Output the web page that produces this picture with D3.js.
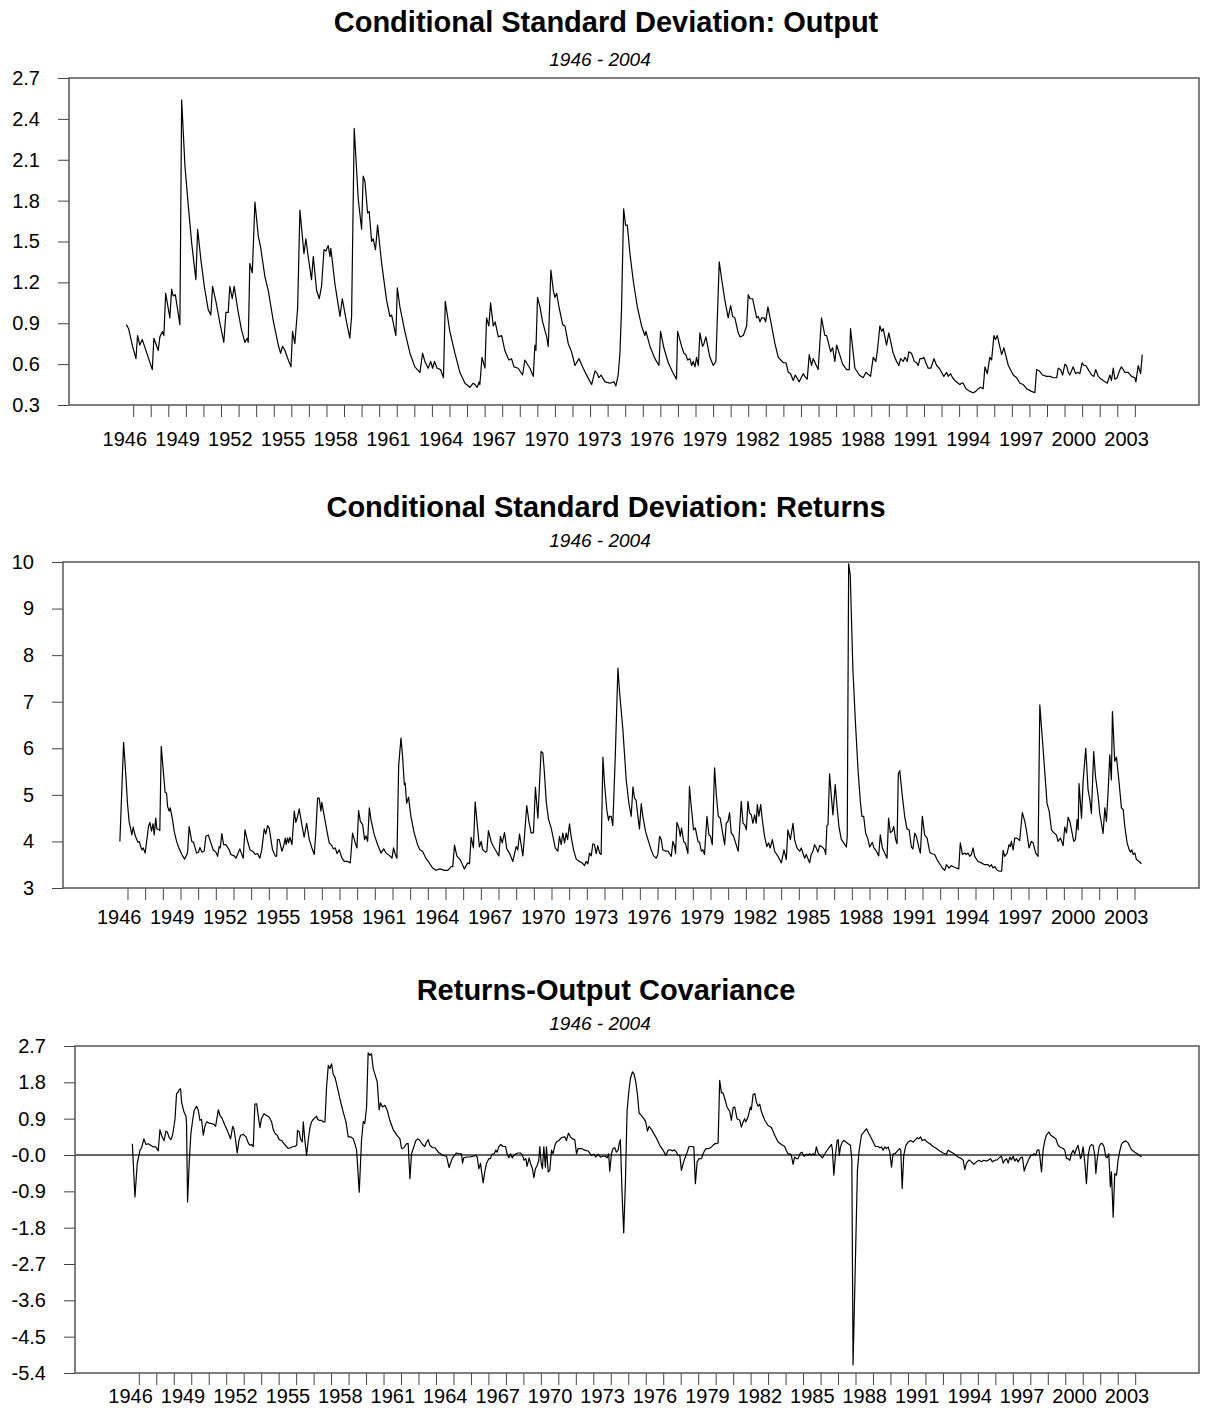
<!DOCTYPE html>
<html>
<head>
<meta charset="utf-8">
<script src="https://cdn.jsdelivr.net/npm/d3@7"></script>
<style>
body { margin: 0; background: #fff; }
svg { display: block; }
text { font-family: "Liberation Sans", Arial, sans-serif; fill: #000; }
</style>
</head>
<body>
<svg id="chart" width="1206" height="1409"></svg>
<script>
// values as [year, value]
var outputSD = [
  [1946.61,0.89],[1946.74,0.86],[1946.97,0.73],[1947.16,0.64],[1947.25,0.81],[1947.38,0.74],[1947.52,0.78],
  [1948.09,0.56],[1948.18,0.79],[1948.43,0.70],[1948.52,0.80],[1948.67,0.84],[1948.75,0.81],[1948.85,1.12],
  [1949.09,0.94],[1949.19,1.15],[1949.28,1.10],[1949.40,1.11],[1949.66,0.89],[1949.76,2.54],[1949.95,2.05],
  [1950.14,1.76],[1950.33,1.49],[1950.57,1.22],[1950.67,1.59],[1950.86,1.36],[1951.05,1.17],[1951.27,1.00],
  [1951.42,0.96],[1951.52,1.17],[1951.71,1.06],[1951.94,0.90],[1952.16,0.76],[1952.28,0.98],[1952.41,0.98],
  [1952.50,1.17],[1952.64,1.08],[1952.75,1.17],[1952.98,0.98],[1953.17,0.85],[1953.36,0.76],[1953.49,0.79],
  [1953.55,0.76],[1953.64,1.34],[1953.78,1.27],[1953.93,1.79],[1954.12,1.54],[1954.25,1.46],[1954.50,1.24],
  [1954.69,1.14],[1954.97,0.92],[1955.26,0.74],[1955.39,0.68],[1955.50,0.73],[1955.64,0.70],[1955.77,0.65],
  [1955.98,0.58],[1956.07,0.84],[1956.20,0.75],[1956.36,1.01],[1956.49,1.73],[1956.72,1.41],[1956.83,1.52],
  [1956.96,1.39],[1957.15,1.22],[1957.25,1.39],[1957.44,1.14],[1957.59,1.08],[1957.72,1.17],[1957.86,1.44],
  [1957.97,1.43],[1958.10,1.47],[1958.20,1.39],[1958.25,1.45],[1958.48,1.19],[1958.77,0.95],[1958.90,1.08],
  [1959.14,0.91],[1959.33,0.79],[1959.43,0.95],[1959.58,2.33],[1959.81,1.81],[1960.00,1.59],[1960.09,1.98],
  [1960.19,1.94],[1960.34,1.71],[1960.43,1.72],[1960.57,1.50],[1960.66,1.52],[1960.79,1.44],[1960.91,1.62],
  [1961.14,1.34],[1961.42,1.07],[1961.61,0.95],[1961.71,0.96],[1961.95,0.81],[1962.03,1.16],[1962.18,1.02],
  [1962.46,0.84],[1962.75,0.68],[1963.03,0.58],[1963.32,0.54],[1963.47,0.68],[1963.60,0.62],[1963.79,0.57],
  [1963.93,0.62],[1964.04,0.57],[1964.15,0.62],[1964.30,0.57],[1964.49,0.56],[1964.66,0.50],[1964.76,1.06],
  [1965.02,0.84],[1965.31,0.68],[1965.59,0.54],[1965.88,0.46],[1966.16,0.43],[1966.35,0.46],[1966.45,0.45],
  [1966.58,0.43],[1966.69,0.47],[1966.73,0.45],[1966.85,0.65],[1967.02,0.57],[1967.11,0.94],[1967.24,0.88],
  [1967.34,1.05],[1967.49,0.88],[1967.60,0.91],[1967.78,0.80],[1967.97,0.81],[1968.15,0.70],[1968.38,0.63],
  [1968.53,0.64],[1968.67,0.58],[1968.91,0.57],[1969.16,0.52],[1969.29,0.63],[1969.48,0.59],[1969.58,0.57],
  [1969.77,0.51],[1969.86,0.74],[1969.92,0.70],[1970.01,1.09],[1970.15,1.02],[1970.30,0.91],[1970.53,0.80],
  [1970.62,0.73],[1970.77,1.29],[1970.91,1.14],[1971.00,1.09],[1971.10,1.12],[1971.23,1.02],[1971.44,0.89],
  [1971.57,0.88],[1971.76,0.75],[1971.95,0.69],[1972.14,0.59],[1972.37,0.64],[1972.61,0.57],[1972.84,0.51],
  [1973.09,0.45],[1973.28,0.55],[1973.41,0.53],[1973.50,0.50],[1973.62,0.52],[1973.85,0.47],[1974.13,0.46],
  [1974.36,0.47],[1974.47,0.44],[1974.60,0.52],[1974.70,0.68],[1974.79,1.00],[1974.91,1.74],[1975.02,1.62],
  [1975.12,1.62],[1975.27,1.41],[1975.46,1.21],[1975.69,1.02],[1975.93,0.88],[1976.12,0.81],[1976.18,0.84],
  [1976.41,0.73],[1976.69,0.64],[1976.92,0.59],[1977.01,0.84],[1977.20,0.72],[1977.45,0.61],[1977.70,0.54],
  [1977.92,0.49],[1977.98,0.84],[1978.21,0.73],[1978.34,0.68],[1978.45,0.67],[1978.55,0.63],[1978.68,0.64],
  [1978.78,0.59],[1978.87,0.62],[1978.97,0.58],[1979.06,0.65],[1979.16,0.59],[1979.25,0.83],[1979.40,0.73],
  [1979.48,0.75],[1979.59,0.80],[1979.82,0.65],[1980.01,0.59],[1980.16,0.62],[1980.35,1.35],[1980.48,1.23],
  [1980.67,1.07],[1980.86,0.94],[1981.00,1.03],[1981.11,0.95],[1981.24,0.94],[1981.43,0.83],[1981.53,0.80],
  [1981.72,0.81],[1981.91,0.88],[1982.00,1.11],[1982.10,1.08],[1982.25,1.08],[1982.48,0.94],[1982.57,0.95],
  [1982.67,0.91],[1982.76,0.94],[1982.90,0.94],[1982.99,0.91],[1983.12,1.02],[1983.33,0.88],[1983.52,0.75],
  [1983.71,0.65],[1984.00,0.61],[1984.15,0.61],[1984.28,0.54],[1984.41,0.53],[1984.56,0.48],[1984.68,0.52],
  [1984.90,0.47],[1985.13,0.53],[1985.22,0.51],[1985.36,0.49],[1985.47,0.67],[1985.60,0.59],[1985.70,0.64],
  [1985.98,0.56],[1986.17,0.94],[1986.36,0.81],[1986.46,0.81],[1986.69,0.69],[1986.80,0.72],[1986.93,0.62],
  [1987.03,0.74],[1987.18,0.68],[1987.37,0.60],[1987.60,0.56],[1987.75,0.56],[1987.82,0.86],[1988.07,0.57],
  [1988.32,0.52],[1988.54,0.50],[1988.70,0.54],[1988.96,0.51],[1989.11,0.65],[1989.26,0.62],[1989.36,0.71],
  [1989.49,0.88],[1989.59,0.84],[1989.68,0.86],[1989.87,0.74],[1990.00,0.83],[1990.25,0.68],[1990.44,0.62],
  [1990.57,0.59],[1990.67,0.64],[1990.82,0.62],[1990.92,0.65],[1991.05,0.62],[1991.14,0.69],[1991.29,0.68],
  [1991.45,0.62],[1991.58,0.61],[1991.67,0.59],[1991.77,0.64],[1991.90,0.64],[1991.99,0.65],[1992.11,0.61],
  [1992.24,0.57],[1992.39,0.57],[1992.57,0.64],[1992.72,0.59],[1992.87,0.57],[1993.00,0.54],[1993.13,0.51],
  [1993.29,0.54],[1993.38,0.51],[1993.51,0.53],[1993.63,0.50],[1993.76,0.48],[1993.95,0.46],[1994.04,0.45],
  [1994.14,0.46],[1994.23,0.46],[1994.39,0.42],[1994.61,0.40],[1994.80,0.39],[1994.95,0.40],[1995.09,0.42],
  [1995.22,0.43],[1995.37,0.42],[1995.47,0.58],[1995.60,0.53],[1995.75,0.65],[1995.85,0.63],[1995.98,0.81],
  [1996.07,0.78],[1996.17,0.81],[1996.42,0.67],[1996.55,0.72],[1996.80,0.59],[1997.08,0.52],[1997.27,0.50],
  [1997.46,0.46],[1997.65,0.45],[1997.84,0.42],[1998.12,0.40],[1998.31,0.39],[1998.41,0.56],[1998.56,0.55],
  [1998.75,0.52],[1998.98,0.51],[1999.17,0.51],[1999.36,0.50],[1999.55,0.50],[1999.64,0.57],[1999.77,0.56],
  [1999.89,0.52],[2000.02,0.60],[2000.11,0.59],[2000.21,0.54],[2000.30,0.52],[2000.49,0.58],[2000.63,0.53],
  [2000.74,0.54],[2000.87,0.53],[2001.00,0.61],[2001.10,0.59],[2001.21,0.59],[2001.35,0.56],[2001.54,0.52],
  [2001.67,0.51],[2001.77,0.56],[2001.92,0.51],[2002.07,0.49],[2002.30,0.47],[2002.43,0.46],[2002.58,0.52],
  [2002.67,0.48],[2002.77,0.57],[2002.86,0.49],[2002.99,0.50],[2003.15,0.56],[2003.24,0.58],[2003.43,0.54],
  [2003.62,0.54],[2003.81,0.51],[2004.00,0.50],[2004.06,0.47],[2004.19,0.59],[2004.33,0.53],[2004.42,0.67]
];

var returnsSD = [
  [1946.57,4.00],[1946.78,6.13],[1946.91,5.40],[1947.00,4.82],[1947.09,4.43],[1947.25,4.14],[1947.32,4.31],
  [1947.44,4.12],[1947.59,3.98],[1947.66,4.00],[1947.81,3.82],[1947.89,3.86],[1948.00,3.75],[1948.19,4.32],
  [1948.27,4.41],[1948.36,4.22],[1948.45,4.38],[1948.51,4.14],[1948.60,4.50],[1948.66,4.27],[1948.80,4.25],
  [1948.83,4.23],[1948.91,6.04],[1949.02,5.54],[1949.13,5.05],[1949.21,5.04],[1949.27,4.75],[1949.36,4.65],
  [1949.42,4.72],[1949.55,4.47],[1949.64,4.22],[1949.78,4.00],[1949.93,3.84],[1950.08,3.72],[1950.23,3.62],
  [1950.40,3.75],[1950.49,4.32],[1950.64,4.00],[1950.74,3.98],[1950.91,3.75],[1951.02,3.77],[1951.10,3.87],
  [1951.21,3.77],[1951.34,3.79],[1951.44,4.11],[1951.57,4.14],[1951.72,3.97],[1951.85,3.82],[1952.00,3.77],
  [1952.10,3.68],[1952.19,3.89],[1952.25,3.86],[1952.34,4.17],[1952.44,3.93],[1952.57,3.93],[1952.76,3.82],
  [1952.85,3.72],[1953.04,3.69],[1953.14,3.64],[1953.36,3.84],[1953.55,3.64],[1953.65,4.25],[1953.74,4.09],
  [1953.93,3.82],[1954.08,3.79],[1954.23,3.72],[1954.36,3.74],[1954.49,3.64],[1954.60,3.82],[1954.74,4.27],
  [1954.83,4.16],[1954.93,4.34],[1955.02,4.29],[1955.21,3.82],[1955.36,3.69],[1955.44,3.68],[1955.49,4.04],
  [1955.59,4.04],[1955.74,3.79],[1955.83,3.89],[1955.93,4.07],[1955.98,3.93],[1956.06,4.07],[1956.12,3.97],
  [1956.19,4.09],[1956.31,3.93],[1956.44,4.65],[1956.53,4.41],[1956.63,4.54],[1956.72,4.70],[1956.87,4.36],
  [1957.00,4.09],[1957.14,4.39],[1957.29,4.04],[1957.44,3.86],[1957.57,3.72],[1957.66,4.18],[1957.76,4.93],
  [1957.85,4.93],[1957.95,4.65],[1958.00,4.84],[1958.14,4.54],[1958.29,4.22],[1958.42,3.97],[1958.57,3.91],
  [1958.65,3.84],[1958.76,3.86],[1958.86,3.74],[1958.99,3.82],[1959.14,3.64],[1959.27,3.57],[1959.46,3.57],
  [1959.61,3.54],[1959.74,4.18],[1959.89,3.97],[1959.99,3.86],[1960.08,4.66],[1960.18,4.43],[1960.31,4.36],
  [1960.42,4.04],[1960.50,4.12],[1960.59,4.00],[1960.69,4.72],[1960.78,4.47],[1960.97,4.14],[1961.16,3.93],
  [1961.35,3.75],[1961.50,3.84],[1961.63,3.75],[1961.85,3.69],[1961.97,3.64],[1962.06,3.86],[1962.16,3.72],
  [1962.25,3.64],[1962.35,5.63],[1962.48,6.22],[1962.57,5.83],[1962.67,5.22],[1962.72,5.25],[1962.80,4.82],
  [1962.91,4.95],[1963.04,4.54],[1963.23,4.18],[1963.42,3.93],[1963.55,3.82],[1963.70,3.79],[1963.89,3.64],
  [1964.08,3.54],[1964.27,3.43],[1964.46,3.38],[1964.69,3.41],[1964.94,3.38],[1965.13,3.38],[1965.32,3.46],
  [1965.41,3.46],[1965.51,3.92],[1965.64,3.69],[1965.83,3.61],[1966.07,3.41],[1966.26,3.54],[1966.36,3.52],
  [1966.45,4.09],[1966.58,3.86],[1966.68,4.85],[1966.79,4.39],[1966.92,3.88],[1967.02,4.00],[1967.11,3.82],
  [1967.26,3.77],[1967.34,3.79],[1967.43,4.23],[1967.58,4.00],[1967.71,3.89],[1967.87,3.79],[1968.02,3.69],
  [1968.11,4.11],[1968.21,3.97],[1968.34,4.19],[1968.47,3.84],[1968.62,3.75],[1968.81,3.57],[1969.00,3.89],
  [1969.09,3.82],[1969.19,4.16],[1969.38,3.69],[1969.47,4.11],[1969.60,4.77],[1969.72,4.43],[1969.85,4.18],
  [1969.98,4.19],[1970.09,5.16],[1970.23,4.50],[1970.41,5.93],[1970.51,5.90],[1970.60,5.47],[1970.70,4.86],
  [1970.83,4.48],[1970.98,4.29],[1971.08,4.11],[1971.21,3.86],[1971.36,3.79],[1971.45,4.11],[1971.55,3.93],
  [1971.64,4.18],[1971.74,3.97],[1971.83,4.18],[1971.91,4.04],[1972.02,4.38],[1972.11,4.11],[1972.25,3.82],
  [1972.40,3.62],[1972.58,3.57],[1972.74,3.54],[1972.87,3.48],[1972.96,3.57],[1973.06,3.52],[1973.15,3.75],
  [1973.25,3.69],[1973.34,3.95],[1973.43,3.93],[1973.53,3.74],[1973.62,3.91],[1973.72,3.75],[1973.81,3.72],
  [1973.91,5.81],[1974.00,5.25],[1974.13,4.68],[1974.23,4.45],[1974.28,4.54],[1974.38,4.54],[1974.47,4.34],
  [1974.61,5.83],[1974.76,7.72],[1974.85,7.22],[1975.04,6.40],[1975.23,5.32],[1975.38,4.82],[1975.51,4.54],
  [1975.61,5.17],[1975.70,4.93],[1975.79,4.88],[1975.89,4.54],[1975.98,4.27],[1976.08,4.81],[1976.17,4.54],
  [1976.32,4.22],[1976.46,4.04],[1976.64,3.82],[1976.78,3.69],[1976.93,3.64],[1977.02,3.72],[1977.12,4.11],
  [1977.21,4.04],[1977.30,3.82],[1977.46,3.79],[1977.59,3.79],[1977.68,3.74],[1977.78,3.68],[1977.87,4.00],
  [1977.97,3.89],[1978.02,3.74],[1978.10,4.41],[1978.21,4.29],[1978.29,4.11],[1978.36,4.29],[1978.48,4.00],
  [1978.59,3.95],[1978.72,3.74],[1978.81,5.18],[1978.91,4.75],[1979.04,4.25],[1979.14,4.29],[1979.29,4.00],
  [1979.38,3.98],[1979.48,3.79],[1979.57,3.82],[1979.66,3.72],[1979.80,4.54],[1979.91,4.14],[1980.00,4.11],
  [1980.10,3.93],[1980.23,5.58],[1980.33,5.00],[1980.44,4.54],[1980.55,4.50],[1980.67,4.22],[1980.80,3.93],
  [1980.89,4.39],[1980.99,4.43],[1981.08,4.62],[1981.17,4.19],[1981.31,4.11],[1981.42,3.97],[1981.57,3.79],
  [1981.65,4.29],[1981.74,4.86],[1981.84,4.39],[1981.93,4.36],[1982.03,4.25],[1982.12,4.86],[1982.21,4.61],
  [1982.31,4.57],[1982.40,4.39],[1982.50,4.57],[1982.59,4.39],[1982.65,4.79],[1982.74,4.54],[1982.84,4.79],
  [1982.93,4.47],[1983.06,4.11],[1983.19,3.89],[1983.29,3.97],[1983.38,3.86],[1983.50,4.04],[1983.63,3.79],
  [1983.82,3.68],[1984.01,3.54],[1984.16,3.82],[1984.29,3.61],[1984.38,4.25],[1984.52,4.04],[1984.67,4.39],
  [1984.76,4.04],[1984.89,3.86],[1985.05,3.79],[1985.14,3.86],[1985.23,3.75],[1985.33,3.64],[1985.42,3.72],
  [1985.61,3.54],[1985.70,3.72],[1985.80,3.79],[1985.89,3.93],[1985.99,3.86],[1986.08,3.77],[1986.18,3.91],
  [1986.33,3.88],[1986.46,3.82],[1986.52,3.72],[1986.59,4.34],[1986.65,4.36],[1986.74,5.45],[1986.84,4.97],
  [1986.93,4.57],[1987.06,5.22],[1987.16,4.75],[1987.27,4.32],[1987.40,4.05],[1987.54,3.97],[1987.69,3.88],
  [1987.74,4.11],[1987.82,9.96],[1987.91,9.72],[1988.06,7.69],[1988.20,6.58],[1988.35,5.54],[1988.48,4.86],
  [1988.57,4.54],[1988.67,4.54],[1988.78,4.18],[1988.91,4.05],[1989.01,3.88],[1989.16,3.98],[1989.25,3.86],
  [1989.39,3.79],[1989.52,3.69],[1989.61,4.14],[1989.73,3.86],[1989.86,3.75],[1989.99,3.64],[1990.08,4.50],
  [1990.18,4.19],[1990.29,4.22],[1990.37,4.32],[1990.48,4.04],[1990.56,3.95],[1990.63,5.45],[1990.71,5.52],
  [1990.86,4.97],[1990.99,4.54],[1991.12,4.27],[1991.24,4.25],[1991.37,3.88],[1991.46,3.84],[1991.56,4.18],
  [1991.65,4.11],[1991.80,3.86],[1991.88,3.75],[1991.99,4.54],[1992.12,4.14],[1992.26,4.07],[1992.41,3.77],
  [1992.50,3.74],[1992.69,3.72],[1992.82,3.61],[1992.97,3.52],[1993.12,3.43],[1993.26,3.38],[1993.35,3.50],
  [1993.50,3.43],[1993.63,3.48],[1993.77,3.45],[1993.92,3.43],[1994.05,3.41],[1994.14,3.97],[1994.26,3.72],
  [1994.39,3.75],[1994.48,3.72],[1994.58,3.75],[1994.67,3.68],[1994.77,3.72],[1994.86,3.86],[1994.95,3.68],
  [1995.14,3.57],[1995.33,3.54],[1995.52,3.50],[1995.71,3.50],[1995.80,3.46],[1995.90,3.50],[1995.99,3.43],
  [1996.09,3.46],[1996.22,3.38],[1996.37,3.36],[1996.48,3.36],[1996.56,3.81],[1996.65,3.68],[1996.79,3.75],
  [1996.90,3.93],[1996.97,3.89],[1997.03,4.00],[1997.13,3.82],[1997.22,4.07],[1997.35,4.07],[1997.50,4.02],
  [1997.65,4.62],[1997.79,4.43],[1997.88,4.25],[1998.03,3.86],[1998.16,4.00],[1998.26,3.97],[1998.41,3.75],
  [1998.54,3.68],[1998.64,6.93],[1998.83,5.97],[1999.05,4.81],[1999.17,4.65],[1999.30,4.25],[1999.45,4.18],
  [1999.58,4.14],[1999.67,4.00],[1999.81,4.07],[1999.96,3.91],[2000.05,4.31],[2000.15,4.18],[2000.24,4.52],
  [2000.34,4.43],[2000.47,4.18],[2000.56,4.00],[2000.66,4.04],[2000.75,4.47],[2000.81,4.25],[2000.86,5.24],
  [2001.00,4.50],[2001.09,5.29],[2001.24,6.00],[2001.37,5.11],[2001.47,4.90],[2001.56,4.60],[2001.69,5.93],
  [2001.79,5.40],[2001.94,4.97],[2002.03,4.61],[2002.13,4.39],[2002.22,4.17],[2002.32,4.72],[2002.41,4.43],
  [2002.51,5.11],[2002.60,5.86],[2002.69,5.32],[2002.75,6.79],[2002.88,5.72],[2002.98,5.81],[2003.13,5.25],
  [2003.26,4.72],[2003.36,4.68],[2003.45,4.32],[2003.58,3.97],[2003.70,3.82],[2003.77,3.77],[2003.85,3.82],
  [2003.92,3.72],[2004.02,3.75],[2004.11,3.61],[2004.26,3.57],[2004.39,3.52]
];

var covariance = [
  [1946.63,0.28],[1946.78,-1.04],[1946.91,-0.21],[1947.07,0.12],[1947.16,0.18],[1947.29,0.40],[1947.41,0.26],
  [1947.54,0.28],[1947.68,0.24],[1947.83,0.20],[1947.98,0.20],[1948.11,0.10],[1948.21,0.63],[1948.30,0.49],
  [1948.44,0.35],[1948.55,0.59],[1948.63,0.57],[1948.74,0.43],[1948.84,0.38],[1948.93,0.49],[1949.07,0.88],
  [1949.16,1.52],[1949.26,1.56],[1949.31,1.62],[1949.39,1.64],[1949.45,1.31],[1949.58,1.07],[1949.70,0.96],
  [1949.73,0.78],[1949.79,-1.16],[1949.89,-0.13],[1949.98,0.53],[1950.08,0.86],[1950.17,1.11],[1950.31,1.21],
  [1950.40,1.11],[1950.50,0.86],[1950.59,0.88],[1950.69,0.49],[1950.78,0.71],[1950.88,0.82],[1951.03,0.79],
  [1951.16,0.78],[1951.30,0.76],[1951.39,0.71],[1951.45,0.86],[1951.55,1.12],[1951.64,0.98],[1951.77,0.90],
  [1951.93,0.73],[1952.06,0.61],[1952.17,0.49],[1952.25,0.40],[1952.37,0.71],[1952.44,0.65],[1952.54,0.36],
  [1952.63,0.05],[1952.73,0.36],[1952.82,0.49],[1952.98,0.51],[1953.13,0.45],[1953.26,0.30],[1953.36,0.24],
  [1953.45,0.26],[1953.55,0.21],[1953.64,1.26],[1953.74,1.27],[1953.83,0.98],[1953.93,0.68],[1954.02,0.90],
  [1954.16,1.02],[1954.31,0.98],[1954.46,0.94],[1954.60,0.82],[1954.69,0.63],[1954.79,0.53],[1954.92,0.49],
  [1955.03,0.38],[1955.17,0.36],[1955.30,0.28],[1955.45,0.21],[1955.55,0.16],[1955.68,0.18],[1955.83,0.21],
  [1955.93,0.21],[1956.03,0.24],[1956.08,0.61],[1956.18,0.57],[1956.25,0.40],[1956.35,0.32],[1956.41,0.82],
  [1956.50,0.36],[1956.60,-0.01],[1956.69,0.36],[1956.79,0.68],[1956.88,0.82],[1956.98,0.88],[1957.07,0.92],
  [1957.17,0.96],[1957.23,0.88],[1957.32,0.86],[1957.45,0.86],[1957.55,0.82],[1957.65,0.82],[1957.74,1.68],
  [1957.84,2.22],[1957.93,2.14],[1958.03,2.26],[1958.12,2.00],[1958.22,1.93],[1958.31,1.77],[1958.50,1.40],
  [1958.69,1.07],[1958.85,0.82],[1958.98,0.45],[1959.11,0.45],[1959.27,0.40],[1959.36,0.28],[1959.46,0.12],
  [1959.61,-0.92],[1959.74,0.36],[1959.84,0.83],[1959.93,0.78],[1960.03,1.19],[1960.12,2.53],[1960.22,2.47],
  [1960.31,2.51],[1960.41,2.14],[1960.50,2.01],[1960.64,1.81],[1960.75,1.12],[1960.83,1.29],[1960.94,1.19],
  [1961.08,1.23],[1961.21,1.11],[1961.36,0.86],[1961.55,0.63],[1961.75,0.50],[1961.94,0.40],[1962.03,0.16],
  [1962.16,0.18],[1962.32,0.28],[1962.41,0.28],[1962.51,-0.59],[1962.60,0.03],[1962.70,0.16],[1962.85,0.36],
  [1962.98,0.40],[1963.08,0.36],[1963.23,0.26],[1963.36,0.21],[1963.46,0.32],[1963.56,0.38],[1963.65,0.24],
  [1963.81,0.18],[1963.94,0.18],[1964.13,0.07],[1964.41,-0.01],[1964.60,-0.03],[1964.75,-0.31],[1964.89,-0.13],
  [1964.98,-0.05],[1965.17,0.05],[1965.33,0.03],[1965.46,0.03],[1965.52,-0.20],[1965.59,-0.07],[1965.75,-0.05],
  [1965.94,-0.05],[1966.13,-0.03],[1966.28,-0.01],[1966.36,-0.05],[1966.45,-0.34],[1966.55,-0.21],[1966.60,-0.38],
  [1966.70,-0.69],[1966.79,-0.42],[1966.89,-0.21],[1967.02,-0.09],[1967.12,-0.09],[1967.17,-0.01],[1967.23,0.02],
  [1967.33,0.03],[1967.42,0.12],[1967.50,0.07],[1967.59,0.20],[1967.71,0.26],[1967.84,0.21],[1967.98,0.21],
  [1968.07,0.03],[1968.17,-0.07],[1968.26,0.03],[1968.36,-0.07],[1968.45,-0.01],[1968.57,0.03],[1968.70,0.05],
  [1968.83,0.05],[1968.95,-0.01],[1969.04,-0.13],[1969.14,-0.09],[1969.21,-0.28],[1969.33,-0.07],[1969.41,-0.21],
  [1969.52,-0.34],[1969.60,-0.56],[1969.69,-0.34],[1969.79,-0.26],[1969.88,-0.13],[1969.94,0.21],[1970.02,-0.21],
  [1970.09,-0.34],[1970.17,0.20],[1970.26,-0.30],[1970.32,0.20],[1970.42,-0.42],[1970.51,-0.38],[1970.61,0.12],
  [1970.70,0.03],[1970.80,0.24],[1970.89,0.32],[1971.03,0.36],[1971.18,0.43],[1971.37,0.45],[1971.46,0.36],
  [1971.58,0.54],[1971.69,0.45],[1971.81,0.40],[1971.94,0.38],[1972.04,0.03],[1972.13,0.16],[1972.32,0.16],
  [1972.51,0.12],[1972.70,0.10],[1972.89,-0.01],[1973.03,0.02],[1973.14,-0.05],[1973.28,0.02],[1973.41,-0.05],
  [1973.56,-0.03],[1973.69,-0.03],[1973.79,-0.07],[1973.88,0.03],[1973.94,-0.40],[1974.04,0.03],[1974.13,0.16],
  [1974.23,0.18],[1974.32,0.07],[1974.42,0.12],[1974.48,0.28],[1974.55,0.38],[1974.65,-1.00],[1974.74,-1.93],
  [1974.84,-0.63],[1974.93,1.07],[1975.03,1.56],[1975.12,1.89],[1975.24,2.06],[1975.33,2.01],[1975.43,1.81],
  [1975.52,1.52],[1975.62,1.04],[1975.75,0.98],[1975.89,0.90],[1976.00,0.82],[1976.10,0.59],[1976.19,0.71],
  [1976.33,0.63],[1976.46,0.53],[1976.61,0.42],[1976.80,0.24],[1976.99,0.12],[1977.15,-0.01],[1977.28,0.12],
  [1977.41,0.13],[1977.53,0.10],[1977.62,0.13],[1977.76,0.07],[1977.85,-0.01],[1977.95,-0.01],[1978.04,-0.38],
  [1978.14,-0.21],[1978.23,-0.09],[1978.37,0.07],[1978.48,0.21],[1978.61,0.21],[1978.75,0.20],[1978.84,-0.71],
  [1978.94,-0.17],[1979.05,-0.09],[1979.19,-0.09],[1979.28,0.03],[1979.38,0.12],[1979.47,0.16],[1979.62,0.16],
  [1979.76,0.20],[1979.85,0.24],[1979.95,0.28],[1980.04,0.28],[1980.14,0.30],[1980.23,1.85],[1980.33,1.54],
  [1980.42,1.54],[1980.52,1.40],[1980.65,1.19],[1980.81,1.07],[1980.90,0.86],[1981.00,1.17],[1981.09,1.19],
  [1981.22,0.90],[1981.38,0.86],[1981.47,0.69],[1981.57,0.82],[1981.66,0.90],[1981.72,0.82],[1981.85,0.94],
  [1981.99,1.19],[1982.04,1.12],[1982.14,1.50],[1982.24,1.52],[1982.33,1.31],[1982.43,1.21],[1982.52,1.26],
  [1982.62,1.07],[1982.81,0.86],[1983.00,0.73],[1983.19,0.68],[1983.38,0.49],[1983.57,0.32],[1983.76,0.26],
  [1983.95,0.21],[1984.05,0.10],[1984.14,0.03],[1984.24,0.03],[1984.33,-0.01],[1984.43,-0.23],[1984.52,-0.05],
  [1984.62,-0.09],[1984.71,-0.09],[1984.85,0.05],[1984.94,0.07],[1985.06,-0.03],[1985.19,0.02],[1985.29,-0.01],
  [1985.38,0.03],[1985.48,-0.01],[1985.57,0.03],[1985.67,-0.01],[1985.76,0.20],[1985.86,0.05],[1985.96,-0.01],
  [1986.11,-0.07],[1986.25,0.03],[1986.44,0.16],[1986.63,0.26],[1986.68,0.12],[1986.76,-0.50],[1986.86,0.03],
  [1986.95,0.36],[1987.01,0.38],[1987.07,-0.01],[1987.14,0.20],[1987.24,0.32],[1987.33,0.36],[1987.45,0.32],
  [1987.58,0.28],[1987.71,0.24],[1987.79,-0.13],[1987.86,-5.20],[1988.11,-0.38],[1988.21,0.12],[1988.34,0.49],
  [1988.48,0.57],[1988.63,0.65],[1988.72,0.57],[1988.86,0.45],[1989.01,0.32],[1989.14,0.21],[1989.30,0.21],
  [1989.39,0.18],[1989.49,0.20],[1989.58,0.12],[1989.68,0.20],[1989.77,0.16],[1989.87,0.20],[1989.96,0.07],
  [1990.06,-0.30],[1990.15,0.03],[1990.25,0.03],[1990.34,0.07],[1990.44,0.12],[1990.54,0.16],[1990.59,0.12],
  [1990.67,-0.83],[1990.76,-0.01],[1990.88,0.24],[1991.01,0.32],[1991.15,0.36],[1991.30,0.32],[1991.43,0.38],
  [1991.53,0.43],[1991.62,0.40],[1991.72,0.45],[1991.81,0.36],[1991.97,0.38],[1992.10,0.32],[1992.25,0.28],
  [1992.44,0.21],[1992.63,0.16],[1992.82,0.10],[1993.01,0.05],[1993.20,0.02],[1993.30,0.12],[1993.49,0.07],
  [1993.68,0.02],[1993.87,-0.05],[1994.06,-0.09],[1994.16,-0.13],[1994.25,-0.36],[1994.35,-0.20],[1994.50,-0.12],
  [1994.63,-0.17],[1994.77,-0.23],[1994.92,-0.17],[1995.07,-0.13],[1995.20,-0.17],[1995.34,-0.13],[1995.49,-0.15],
  [1995.63,-0.12],[1995.72,-0.09],[1995.83,-0.17],[1995.97,-0.13],[1996.10,-0.12],[1996.22,-0.07],[1996.35,-0.03],
  [1996.45,-0.20],[1996.54,-0.13],[1996.64,-0.09],[1996.73,-0.20],[1996.83,-0.05],[1996.92,-0.12],[1997.02,-0.03],
  [1997.11,-0.15],[1997.21,-0.09],[1997.30,-0.17],[1997.44,-0.07],[1997.55,-0.05],[1997.65,-0.40],[1997.74,-0.28],
  [1997.82,-0.20],[1997.93,-0.09],[1998.03,-0.01],[1998.12,-0.01],[1998.22,0.03],[1998.31,-0.01],[1998.39,0.12],
  [1998.49,0.13],[1998.54,-0.01],[1998.64,-0.42],[1998.73,0.12],[1998.83,0.36],[1998.92,0.49],[1999.06,0.57],
  [1999.17,0.49],[1999.30,0.45],[1999.46,0.40],[1999.59,0.24],[1999.69,0.20],[1999.78,0.18],[1999.88,0.16],
  [1999.97,0.12],[2000.07,-0.09],[2000.16,-0.09],[2000.26,-0.13],[2000.35,0.03],[2000.45,0.12],[2000.54,0.03],
  [2000.64,0.16],[2000.73,0.24],[2000.79,0.10],[2000.87,-0.09],[2000.92,-0.05],[2001.02,0.20],[2001.12,-0.21],
  [2001.21,-0.71],[2001.31,-0.01],[2001.40,0.20],[2001.50,0.26],[2001.59,0.24],[2001.69,-0.01],[2001.75,-0.46],
  [2001.82,-0.13],[2001.94,0.21],[2002.03,0.28],[2002.13,0.28],[2002.22,0.20],[2002.32,-0.05],[2002.39,-0.07],
  [2002.49,0.03],[2002.58,-0.79],[2002.64,-0.42],[2002.74,-1.54],[2002.83,-0.46],[2002.93,-0.50],[2003.02,-0.13],
  [2003.12,0.10],[2003.21,0.26],[2003.31,0.32],[2003.46,0.35],[2003.60,0.30],[2003.69,0.21],[2003.79,0.13],
  [2003.98,0.07],[2004.17,0.02],[2004.36,-0.05]
];

var yearLabels = [1946, 1949, 1952, 1955, 1958, 1961, 1964, 1967, 1970, 1973, 1976, 1979, 1982, 1985, 1988, 1991, 1994, 1997, 2000, 2003];
var outputTicks = ["0.3", "0.6", "0.9", "1.2", "1.5", "1.8", "2.1", "2.4", "2.7"];
var returnsTicks = ["3", "4", "5", "6", "7", "8", "9", "10"];
var covTicks = ["-5.4", "-4.5", "-3.6", "-2.7", "-1.8", "-0.9", "-0.0", "0.9", "1.8", "2.7"];
var titles = ["Conditional Standard Deviation: Output", "Conditional Standard Deviation: Returns", "Returns-Output Covariance"];
var subtitle = "1946 - 2004";

var svg = d3.select("#chart");
var xDomain = [1943.35, 2007.65];
var plotRight = 1199;

var panels = [
    {title: titles[0], data: outputSD, ticks: outputTicks, left: 69, top: 78, bottom: 405, titleY: 32, subY: 66, labPad: 27, zero: false},
    {title: titles[1], data: returnsSD, ticks: returnsTicks, left: 63, top: 562, bottom: 888, titleY: 517, subY: 547, labPad: 22, zero: false},
    {title: titles[2], data: covariance, ticks: covTicks, left: 75, top: 1046, bottom: 1373, titleY: 1000, subY: 1030, labPad: 16, zero: true}
];

panels.forEach(drawPanel);

function drawPanel(p) {
    var g = svg.append("g");
    var yVals = p.ticks.map(Number);

    var x = d3.scaleLinear().domain(xDomain).range([p.left, plotRight]);
    var y = d3.scaleLinear()
        .domain([d3.min(yVals), d3.max(yVals)])
        .range([p.bottom, p.top]);

    g.append("text")
        .attr("x", 606)
        .attr("y", p.titleY)
        .attr("text-anchor", "middle")
        .style("font-size", "29px")
        .style("font-weight", "bold")
        .text(p.title);

    g.append("text")
        .attr("x", 600)
        .attr("y", p.subY)
        .attr("text-anchor", "middle")
        .style("font-size", "19px")
        .style("font-style", "italic")
        .text(subtitle);

    // y axis, labels as printed
    var yAxis = d3.axisLeft(y)
        .tickValues(yVals)
        .tickFormat(function (d, i) { return p.ticks[i]; })
        .tickSize(11)
        .tickPadding(18);
    var ya = g.append("g").attr("transform", "translate(" + p.left + ",0)").call(yAxis);
    ya.select(".domain").remove();
    ya.selectAll("line").attr("stroke", "#444");
    ya.selectAll("text").style("font-size", "20px").attr("fill", "#000");

    // year ticks
    var xAxis = d3.axisBottom(x)
        .tickValues(d3.range(1947, 2005))
        .tickFormat("")
        .tickSize(12);
    var xa = g.append("g").attr("transform", "translate(0," + p.bottom + ")").call(xAxis);
    xa.select(".domain").remove();
    xa.selectAll("line").attr("stroke", "#444");

    // year labels sit in the middle of each year
    var xLab = d3.axisBottom(x)
        .tickValues(yearLabels.map(function (d) { return d + 0.5; }))
        .tickFormat(function (d) { return String(Math.floor(d)); })
        .tickSize(0)
        .tickPadding(p.labPad);
    var xl = g.append("g").attr("transform", "translate(0," + p.bottom + ")").call(xLab);
    xl.select(".domain").remove();
    xl.selectAll("text").style("font-size", "20px").attr("fill", "#000");

    if (p.zero) {
        g.append("line")
            .attr("x1", p.left).attr("x2", plotRight)
            .attr("y1", y(0)).attr("y2", y(0))
            .attr("stroke", "#333")
            .attr("stroke-width", 1.5);
    }

    g.append("rect")
        .attr("x", p.left)
        .attr("y", p.top)
        .attr("width", plotRight - p.left)
        .attr("height", p.bottom - p.top)
        .attr("fill", "none")
        .attr("stroke", "#555")
        .attr("stroke-width", 1.5);

    var line = d3.line()
        .x(function (d) { return x(d[0]); })
        .y(function (d) { return y(d[1]); });

    g.append("path")
        .attr("d", line(p.data))
        .attr("fill", "none")
        .attr("stroke", "#000")
        .attr("stroke-width", 1.2)
        .attr("stroke-linejoin", "round");
}
</script>
</body>
</html>
